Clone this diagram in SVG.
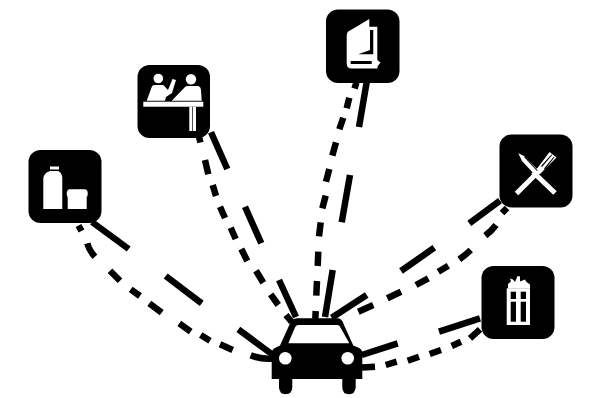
<svg xmlns="http://www.w3.org/2000/svg" width="589" height="398" viewBox="0 0 589 398">
<style>
.l{fill:none;stroke:#000;stroke-width:6.500}
.b{fill:#000}
.w{fill:#fff}
.t{fill:none;stroke:#fff}
</style>
<rect width="589" height="398" fill="#fff"/>
<g id="connectors">
<path class="l" d="M92,222L128.700,249M165.700,276L201.700,303.300M238.300,329.300L273,355"/>
<path class="l" d="M211,132.300L227.300,169M245,206.700L261.300,243.300M279,280L296,317"/>
<path class="l" d="M366.700,82L359,127M350,175L341.700,222.300M332.700,270L325,317"/>
<path class="l" d="M500,200.700L469.300,223.300M434.300,247.700L401,271M366.700,295L331.700,317.700"/>
<path class="l" d="M480,318.300L439,331.700M397.700,343.300L361.700,355"/>
<path class="l" d="M78.500,225.500L81.500,231M87.300,243.300Q89.500,251 95,256.700M110,270.700L120,280.700M130.700,289.300L140,296M149.300,303.300L161.700,312.700M179.300,323.300L190.700,331.700M200.700,335L210,340.700M220,344.300L232.700,350M250.700,355.300Q261,359.500 273,358.500"/>
<path class="l" d="M199,137L200.500,142.500M205,160L208.300,174.300M212.700,185L216,196M220,206.700L225,218M230.700,227.700L235.700,239M241.300,249L247.300,261M256,270.700L263.300,282.700M270.700,294.300L278.300,305M286,315L291.700,322"/>
<path class="l" d="M356.500,82.500L354.500,88.500M349.300,97.700L346.700,108.300M343.300,117.700L339.300,129.300M336,142.300L332.300,155.700M329.300,169L326,181.700M325.700,195.700L322.300,208.300M320.700,222.300L319,236.300M318.300,251.700L317.700,266M317,281L316.300,295.700M315.700,311L315.300,319"/>
<path class="l" d="M507,208L502,213M496,225Q491.500,231 485.300,235.700M470.700,250Q465.500,255 459.300,259.300M448.300,265.700L438.300,271.700M428.300,278.300L416,285M401,291.700L387.300,298.300M373.300,305L358.300,311.700"/>
<path class="l" d="M480,329.300L470,338.300M461,341.700L451.700,346M441,350L429.700,354M419,356.700L407.700,360.700M396.700,361.700L385.700,365M375,366.700L362,367.500"/>
</g>
<g id="shop">
<rect class="b" x="28.500" y="150" width="73" height="73" rx="12"/>
<rect class="w" x="50" y="166.500" width="9" height="3"/>
<path class="w" d="M43.300,178Q44,173 50,171H58.300Q62,173 62.300,178V209H43.300Z"/>
<path class="w" d="M69,189.300H85Q87.700,190 87.700,193V195Q87,197 86.700,197V209H67.700V197Q66.700,196 66.700,193Q67,190 69,189.300Z"/>
</g>
<g id="counter">
<rect class="b" x="137.500" y="65" width="72.500" height="73" rx="12"/>
<circle class="w" cx="158.300" cy="78.500" r="4.800"/>
<circle class="w" cx="191" cy="79.300" r="5.200"/>
<path class="w" d="M146.700,100.700L151.700,87Q152,85 155,85H163.300L168,90L172.500,79L176,80L172,93L166,97L165,100.700Z"/>
<path class="w" d="M171.700,100.700L185,87Q186,86 188,86H198.300Q201,87 201,90L201.700,100.700Z"/>
<rect class="w" x="143.300" y="101.700" width="60" height="5"/>
<rect class="w" x="189.300" y="106.700" width="3" height="24.300"/>
<rect class="w" x="193" y="106.700" width="3" height="24.300"/>
</g>
<g id="book">
<rect class="b" x="326" y="9.500" width="73.500" height="73.500" rx="12"/>
<path class="w" d="M346.700,36Q346.700,31.700 350,30.500L369.300,19V26.700H377.300V60L380.500,62.500L377.500,66.500V68.500H351.700Q346.700,68.500 346.700,63.300Z"/>
<path class="b" d="M370,30H373.300V54.300H358.300L370,50Z"/>
<rect class="b" x="350.700" y="61" width="21" height="3"/>
</g>
<g id="restaurant">
<rect class="b" x="499.500" y="134.500" width="73" height="73" rx="12"/>
<path class="t" stroke-width="5" d="M516.500,193.500L541,169"/>
<path class="w" d="M536,170L549.500,152L556.500,157.500L540,174Z"/>
<path class="b" d="M541,166L551.500,154.500L552.200,155L542,167ZM544,168.500L553.800,156.800L554.500,157.300L545,169.500Z"/>
<path class="t" stroke-width="5" d="M533,172L555,193"/>
<path class="w" d="M518.300,153.300L524,156L539,171L535,175L522,161Z"/>
<path class="b" d="M524,157L537,171L537.600,170.400L525,156.500Z"/>
</g>
<g id="gift">
<rect class="b" x="481.500" y="266" width="73" height="73" rx="12"/>
<path class="w" d="M508,288.500V284L511,281.500L510,278.500L513,279.500L515,282L517.500,276L520,276.500L520,281.500L525,279.500L526.500,282L530,284.500V288.500Z"/>
<rect class="w" x="506.700" y="288.300" width="23.300" height="36.700"/>
<rect class="b" x="510.700" y="291.700" width="5.300" height="7.300"/>
<rect class="b" x="520.700" y="291.700" width="5.300" height="7.300"/>
<rect class="b" x="510.700" y="301.700" width="5.300" height="20"/>
<rect class="b" x="520.700" y="301.700" width="5.300" height="20"/>
</g>
<g id="car">
<path class="b" d="M271.700,379V353Q271.700,349 276,347.500L280,345.500L289.300,325Q292,318.300 297,318.300H338Q342,318.300 344,325L353.300,345.500L358,347.500Q362.300,349 362.300,353V379H355.700V387.500Q355,394.300 349,394.300Q342.500,394.300 342.300,387.500V379H292.300V387.500Q292,394.300 285.500,394.300Q279.500,394.300 279,387.500V379Z"/>
<path class="w" d="M288.300,343.300L295,327.500Q295.700,325 298,325H337.500Q339.500,325 340.500,327.500L349.300,343.300Z"/>
<circle class="w" cx="285.300" cy="358.300" r="6.300"/>
<circle class="w" cx="347.700" cy="358.300" r="6.300"/>
</g>
</svg>
